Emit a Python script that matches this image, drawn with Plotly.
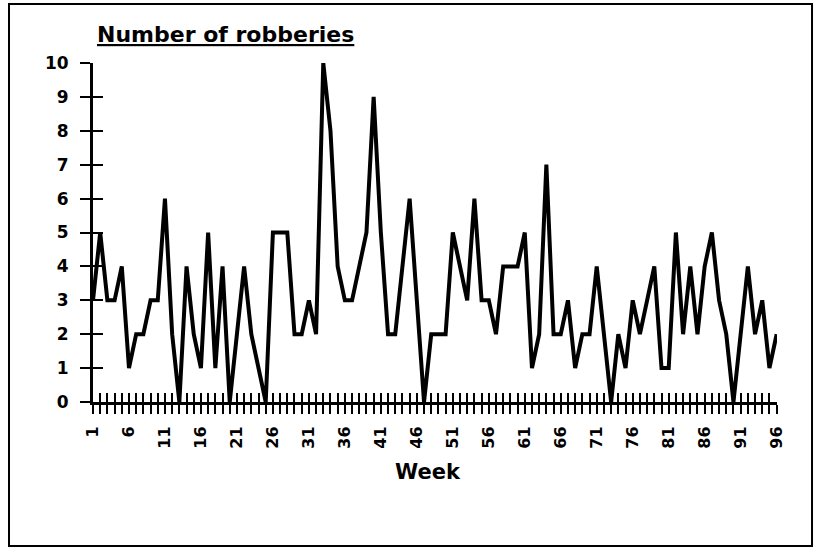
import plotly.graph_objects as go

# ---- data ----
weeks = list(range(1, 97))
robberies = [
    3, 5, 3, 3, 4, 1, 2, 2, 3, 3,
    6, 2, 0, 4, 2, 1, 5, 1, 4, 0,
    2, 4, 2, 1, 0, 5, 5, 5, 2, 2,
    3, 2, 10, 8, 4, 3, 3, 4, 5, 9,
    5, 2, 2, 4, 6, 3, 0, 2, 2, 2,
    5, 4, 3, 6, 3, 3, 2, 4, 4, 4,
    5, 1, 2, 7, 2, 2, 3, 1, 2, 2,
    4, 2, 0, 2, 1, 3, 2, 3, 4, 1,
    1, 5, 2, 4, 2, 4, 5, 3, 2, 0,
    2, 4, 2, 3, 1, 2,
]
labelled_weeks = [1, 6, 11, 16, 21, 26, 31, 36, 41, 46,
                  51, 56, 61, 66, 71, 76, 81, 86, 91, 96]
y_ticks = [0, 1, 2, 3, 4, 5, 6, 7, 8, 9, 10]

title_text = "Number of robberies"
x_title = "Week"

tick_text = [str(w) if w in labelled_weeks else "" for w in weeks]

FONT = "DejaVu Sans"
tickfont_x = dict(family=FONT, size=16, color="black", weight="bold")
tickfont_y = dict(family=FONT, size=17, color="black", weight="bold")

fig = go.Figure()
fig.add_trace(go.Scatter(
    x=weeks, y=robberies, mode="lines",
    line=dict(color="black", width=4),
    showlegend=False, hoverinfo="x+y",
))
# invisible trace so the overlaid (inside-tick) axes are drawn
fig.add_trace(go.Scatter(
    x=weeks, y=robberies, xaxis="x2", yaxis="y2", mode="lines",
    line=dict(color="rgba(0,0,0,0)", width=0),
    showlegend=False, hoverinfo="skip",
))

x_range = [1, 96.05]
y_range = [0, 10]

fig.update_layout(
    width=817, height=548,
    margin=dict(l=93, r=40, t=63, b=146),
    paper_bgcolor="white", plot_bgcolor="white",
    xaxis=dict(
        range=x_range, tickmode="array", tickvals=weeks, ticktext=tick_text,
        ticks="outside", ticklen=9, tickwidth=2, tickcolor="black",
        showline=True, linewidth=3, linecolor="black",
        showgrid=False, zeroline=False, tickangle=-90,
        tickfont=tickfont_x, ticklabelstandoff=6,
    ),
    xaxis2=dict(
        range=x_range, overlaying="x", anchor="y", side="bottom",
        tickmode="array", tickvals=weeks,
        ticks="inside", ticklen=9, tickwidth=2, tickcolor="black",
        showticklabels=False, showline=False, showgrid=False, zeroline=False,
    ),
    yaxis=dict(
        range=y_range, tickmode="array", tickvals=y_ticks,
        ticks="outside", ticklen=10, tickwidth=2, tickcolor="black",
        showline=True, linewidth=3, linecolor="black",
        showgrid=False, zeroline=False,
        tickfont=tickfont_y, ticklabelstandoff=8,
    ),
    yaxis2=dict(
        range=y_range, overlaying="y", anchor="x", side="left",
        tickmode="array", tickvals=y_ticks,
        ticks="inside", ticklen=10, tickwidth=2, tickcolor="black",
        showticklabels=False, showline=False, showgrid=False, zeroline=False,
    ),
    annotations=[
        dict(text=title_text, xref="paper", yref="paper", x=0, y=1,
             xanchor="left", yanchor="bottom", xshift=2, yshift=14,
             showarrow=False,
             font=dict(family=FONT, size=22, color="black", weight="bold",
                       lineposition="under")),
        dict(text=x_title, xref="paper", yref="paper", x=0.49, y=0,
             xanchor="center", yanchor="middle", yshift=-70,
             showarrow=False,
             font=dict(family=FONT, size=21, color="black", weight="bold")),
    ],
    shapes=[
        dict(type="rect", xref="paper", yref="paper",
             x0=-0.1228, x1=1.0512, y0=-0.4248, y1=1.174,
             line=dict(color="black", width=2), layer="below"),
    ],
)

fig.write_html(
    "out.html",
    config={"displayModeBar": False},
    post_script="document.body.style.margin='0';document.body.style.overflow='hidden';",
)
